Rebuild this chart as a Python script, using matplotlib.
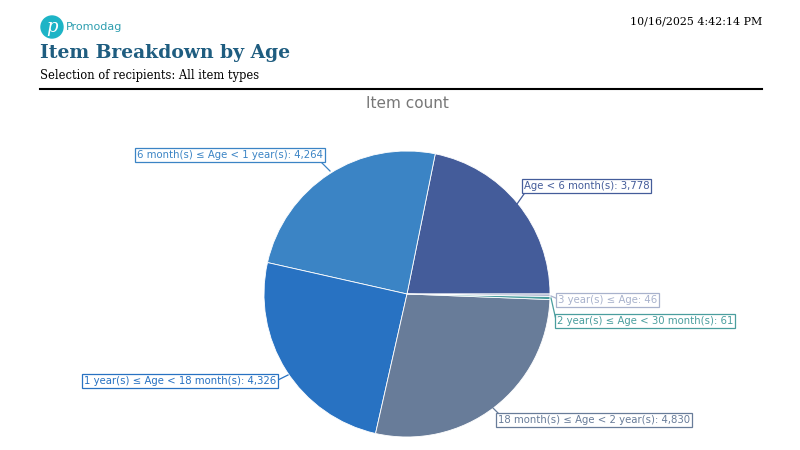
import matplotlib
matplotlib.use("Agg")
import matplotlib.pyplot as plt
from matplotlib.patches import Circle

categories = ["Age < 6 month(s)", "6 month(s) \u2264 Age < 1 year(s)", "1 year(s) \u2264 Age < 18 month(s)",
              "18 month(s) \u2264 Age < 2 year(s)", "2 year(s) \u2264 Age < 30 month(s)", "3 year(s) \u2264 Age"]
values = [3778, 4264, 4326, 4830, 61, 46]
colors = ["#445c9a", "#3b84c5", "#2872c2", "#687c99", "#4a9e9e", "#a8b2cc"]

W, H = 800, 450
fig = plt.figure(figsize=(8, 4.5), dpi=100)
ax = fig.add_axes([0, 0, 1, 1])

cx, cy, r = 407, H - 294, 143
wedges, _ = ax.pie(values, colors=colors, startangle=0, counterclock=True,
                   center=(cx, cy), radius=r,
                   wedgeprops=dict(edgecolor="white", linewidth=0.6))
ax.set_xlim(0, W)
ax.set_ylim(0, H)
ax.set_aspect("equal")
ax.axis("off")

def Y(py):
    return H - py

# labels: (box left x, box center y in pixels, leader start, leader end)
label_pos = [
    (524, 186, (524, 194), (517, 204)),
    (137, 155, (322, 163), (330, 171)),
    (84, 381, (278, 380), (288, 375)),
    (498, 420, (498, 413), (490, 405)),
    (557, 321, (556, 320), (551, 298)),
    (558, 300, (558, 299), (551, 296)),
]
for cat, v, c, (lx, ly, p0, p1) in zip(categories, values, colors, label_pos):
    ax.plot([p0[0], p1[0]], [Y(p0[1]), Y(p1[1])], color=c, lw=0.9)
    ax.text(lx, Y(ly), f"{cat}: {v:,}", fontsize=7.3, color=c,
            va="center", ha="left", family="DejaVu Sans",
            bbox=dict(boxstyle="square,pad=0.15", fc="white", ec=c, lw=0.9))

# header
ax.add_patch(Circle((52, Y(27)), 11, color="#1db4c6"))
ax.text(52, Y(27.5), "p", color="white", fontsize=13, style="italic",
        family="DejaVu Serif", ha="center", va="center")
ax.text(66, Y(27), "Promodag", color="#2f9fb0", fontsize=8, va="center", ha="left",
        family="DejaVu Sans")
ax.text(40, Y(53), "Item Breakdown by Age", color="#1f5d80", fontsize=13.5,
        fontweight="bold", family="DejaVu Serif", va="center", ha="left")
ax.text(40, Y(76), "Selection of recipients: All item types", color="black", fontsize=8.3,
        family="DejaVu Serif", va="center", ha="left")
ax.text(762, Y(21), "10/16/2025 4:42:14 PM", color="black", fontsize=7.9,
        family="DejaVu Serif", va="center", ha="right")
ax.plot([40, 762], [Y(89), Y(89)], color="black", lw=1.5)
ax.text(407, Y(104), "Item count", color="#777777", fontsize=11, family="DejaVu Sans",
        ha="center", va="center")

fig.savefig("out.png", dpi=100)
